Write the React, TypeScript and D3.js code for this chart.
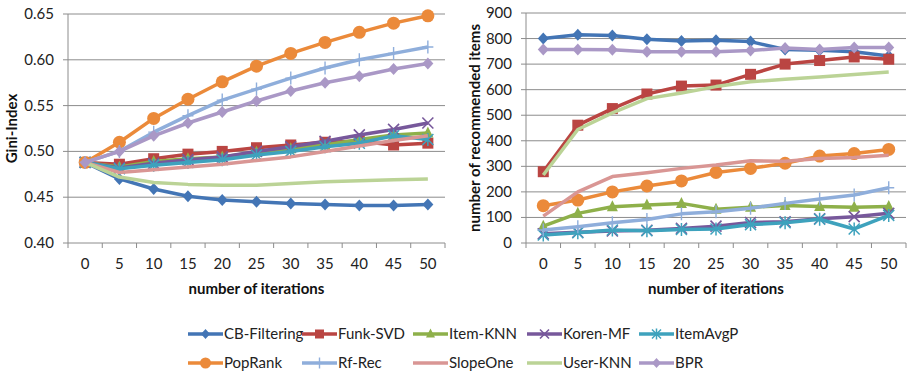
import * as d3 from 'd3';

const iterations = ['0', '5', '10', '15', '20', '25', '30', '35', '40', '45', '50'];

const seriesNames = ['CB-Filtering', 'Funk-SVD', 'Item-KNN', 'Koren-MF', 'ItemAvgP', 'PopRank', 'Rf-Rec', 'SlopeOne', 'User-KNN', 'BPR'];
const seriesColors = ['#4375B5', '#BA4542', '#8EB04A', '#77589B', '#3EA2BD', '#EB8A3A', '#8FAEDB', '#D99694', '#BBD396', '#AA98C6'];
const seriesMarkers = ['diamond', 'square', 'triangle', 'x', 'star', 'circle', 'plus', 'none', 'none', 'diamond'];

// Gini-Index per iteration
const giniCB = [0.488, 0.470, 0.459, 0.451, 0.447, 0.445, 0.443, 0.442, 0.441, 0.441, 0.442];
const giniFunk = [0.488, 0.486, 0.492, 0.497, 0.500, 0.504, 0.507, 0.510, 0.511, 0.507, 0.509];
const giniItemKnn = [0.488, 0.483, 0.489, 0.492, 0.494, 0.499, 0.503, 0.507, 0.513, 0.518, 0.520];
const giniKoren = [0.488, 0.482, 0.487, 0.491, 0.494, 0.500, 0.505, 0.511, 0.518, 0.524, 0.531];
const giniItemAvg = [0.488, 0.481, 0.485, 0.488, 0.491, 0.496, 0.500, 0.505, 0.509, 0.517, 0.513];
const giniPop = [0.488, 0.510, 0.536, 0.557, 0.576, 0.593, 0.607, 0.619, 0.630, 0.640, 0.648];
const giniRf = [0.488, 0.500, 0.521, 0.539, 0.556, 0.568, 0.580, 0.591, 0.600, 0.607, 0.614];
const giniSlope = [0.488, 0.477, 0.480, 0.483, 0.486, 0.490, 0.494, 0.500, 0.506, 0.512, 0.517];
const giniUserKnn = [0.488, 0.472, 0.466, 0.464, 0.463, 0.463, 0.465, 0.467, 0.468, 0.469, 0.470];
const giniBpr = [0.488, 0.500, 0.517, 0.531, 0.543, 0.555, 0.566, 0.575, 0.582, 0.590, 0.596];

// number of recommended items per iteration
const itemsCB = [800, 815, 812, 797, 790, 793, 788, 757, 754, 748, 732];
const itemsFunk = [279, 461, 526, 583, 614, 618, 660, 700, 714, 728, 719];
const itemsItemKnn = [66, 116, 142, 149, 155, 132, 140, 147, 143, 140, 143];
const itemsKoren = [36, 42, 47, 50, 57, 66, 80, 83, 95, 103, 116];
const itemsItemAvg = [31, 40, 51, 48, 53, 55, 72, 79, 93, 55, 108];
const itemsPop = [146, 168, 200, 223, 243, 276, 292, 312, 340, 350, 366];
const itemsRf = [51, 64, 79, 92, 114, 122, 136, 155, 172, 188, 216];
const itemsSlope = [105, 200, 260, 275, 292, 305, 322, 320, 331, 335, 343];
const itemsUserKnn = [266, 444, 509, 565, 587, 612, 631, 641, 650, 659, 669];
const itemsBpr = [757, 757, 756, 748, 748, 748, 753, 763, 757, 765, 765];

const giniSeries = [giniCB, giniFunk, giniItemKnn, giniKoren, giniItemAvg, giniPop, giniRf, giniSlope, giniUserKnn, giniBpr];
const itemSeries = [itemsCB, itemsFunk, itemsItemKnn, itemsKoren, itemsItemAvg, itemsPop, itemsRf, itemsSlope, itemsUserKnn, itemsBpr];

const giniTicks = [0.40, 0.45, 0.50, 0.55, 0.60, 0.65];
const itemTicks = [0, 100, 200, 300, 400, 500, 600, 700, 800, 900];

const FONT = 'Lato, "Open Sans", sans-serif';
const GRID = '#8c8c8c';

function Marker({ type, x, y, color, s = 5.5 }: { type: string; x: number; y: number; color: string; s?: number }) {
  if (type === 'diamond')
    return <path d={`M${x},${y - s - 0.5}L${x + s},${y}L${x},${y + s + 0.5}L${x - s},${y}Z`} fill={color} />;
  if (type === 'square') return <rect x={x - s} y={y - s} width={2 * s} height={2 * s} fill={color} />;
  if (type === 'triangle')
    return <path d={`M${x},${y - s - 1}L${x + s},${y + s - 1}L${x - s},${y + s - 1}Z`} fill={color} />;
  if (type === 'circle') return <circle cx={x} cy={y} r={s + 1} fill={color} />;
  if (type === 'x')
    return (
      <path d={`M${x - s},${y - s}L${x + s},${y + s}M${x - s},${y + s}L${x + s},${y - s}`} stroke={color} strokeWidth={1.6} />
    );
  if (type === 'star')
    return (
      <path
        d={`M${x - s},${y - s}L${x + s},${y + s}M${x - s},${y + s}L${x + s},${y - s}M${x},${y - s - 1}L${x},${y + s + 1}`}
        stroke={color}
        strokeWidth={1.5}
      />
    );
  if (type === 'plus')
    return <path d={`M${x - s},${y}L${x + s},${y}M${x},${y - s - 1}L${x},${y + s + 1}`} stroke={color} strokeWidth={1.4} />;
  return null;
}

function Panel({
  left, right, top, bottom, domain, ticks, fmt, data, yTitle, yTitleX,
}: {
  left: number; right: number; top: number; bottom: number; domain: [number, number]; ticks: number[];
  fmt: (v: number) => string; data: number[][]; yTitle: string; yTitleX: number;
}) {
  const x = d3.scaleBand().domain(iterations).range([left, right]);
  const y = d3.scaleLinear().domain(domain).range([bottom, top]);
  const cx = (c: string) => (x(c) as number) + x.bandwidth() / 2;
  const line = d3.line<number>().x((_, i) => cx(iterations[i])).y(d => y(d));
  const edges = iterations.map(c => x(c) as number).concat([right]);

  return (
    <g>
      {ticks.map(t => (
        <g key={t}>
          {t !== domain[0] && <line x1={left} x2={right} y1={y(t)} y2={y(t)} stroke={GRID} strokeWidth={1} />}
          <line x1={left - 5} x2={left} y1={y(t)} y2={y(t)} stroke={GRID} />
          <text x={left - 14} y={y(t) + 5} textAnchor="end" fontSize={15} fill="#222">{fmt(t)}</text>
        </g>
      ))}
      <line x1={left} x2={left} y1={top} y2={bottom} stroke={GRID} />
      <line x1={left} x2={right} y1={bottom} y2={bottom} stroke={GRID} />
      {edges.map((e, i) => (
        <line key={i} x1={e} x2={e} y1={bottom} y2={bottom + 5} stroke={GRID} />
      ))}
      {iterations.map(c => (
        <text key={c} x={cx(c)} y={bottom + 26} textAnchor="middle" fontSize={15} fill="#222">{c}</text>
      ))}
      <text x={(left + right) / 2} y={bottom + 51} textAnchor="middle" fontSize={15} fontWeight="bold" fill="#111">
        number of iterations
      </text>
      <text
        transform={`translate(${yTitleX},${(top + bottom) / 2}) rotate(-90)`}
        textAnchor="middle"
        fontSize={15}
        fontWeight="bold"
        fill="#111"
      >
        {yTitle}
      </text>
      {data.map((vals, si) => (
        <g key={si}>
          <path d={line(vals) || ''} fill="none" stroke={seriesColors[si]} strokeWidth={3.5} strokeLinejoin="round" />
          {vals.map((v, i) => (
            <Marker key={i} type={seriesMarkers[si]} x={cx(iterations[i])} y={y(v)} color={seriesColors[si]} />
          ))}
        </g>
      ))}
    </g>
  );
}

export default function App() {
  const legendCols = [188, 302, 413, 527, 639];
  const legendRows = [334, 363];
  return (
    <svg width={909} height={372} style={{ display: 'block', fontFamily: FONT }}>
      <style>{`body{margin:0}`}</style>
      <rect width={909} height={372} fill="#fff" />
      <Panel left={68} right={445} top={14} bottom={243} domain={[0.4, 0.65]} ticks={giniTicks}
        fmt={d3.format('.2f')} data={giniSeries} yTitle="Gini-Index" yTitleX={17} />
      <Panel left={526} right={906} top={13} bottom={243} domain={[0, 900]} ticks={itemTicks}
        fmt={d3.format('d')} data={itemSeries} yTitle="number of recommended items" yTitleX={480} />
      {seriesNames.map((name, i) => {
        const lx = legendCols[i % 5];
        const ly = legendRows[Math.floor(i / 5)];
        return (
          <g key={name}>
            <line x1={lx} x2={lx + 35} y1={ly} y2={ly} stroke={seriesColors[i]} strokeWidth={3.5} />
            <Marker type={seriesMarkers[i]} x={lx + 17.5} y={ly} color={seriesColors[i]} s={4.5} />
            <text x={lx + 36} y={ly + 5} fontSize={15} fill="#222">{name}</text>
          </g>
        );
      })}
    </svg>
  );
}
